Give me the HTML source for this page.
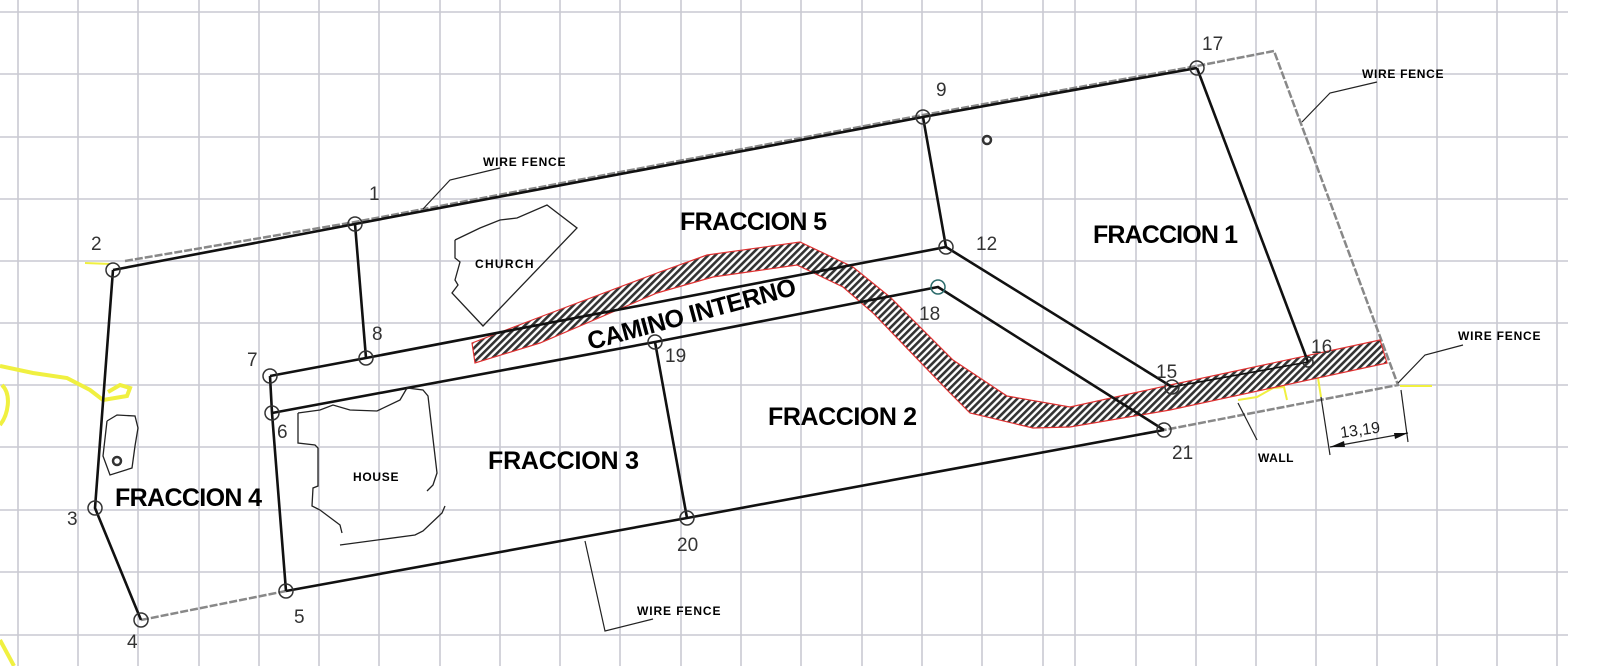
<!DOCTYPE html>
<html><head><meta charset="utf-8"><style>
html,body{margin:0;padding:0;background:#fff}
svg{display:block}
text{font-family:"Liberation Sans",sans-serif}
.n{font-size:19px;fill:#333}
.f{font-size:25px;font-weight:bold;fill:#000}
.s{font-size:12px;font-weight:bold;fill:#000;letter-spacing:-0.5px}
</style></head><body>
<svg width="1611" height="666" viewBox="0 0 1611 666" xmlns="http://www.w3.org/2000/svg">
<defs>
<pattern id="h" patternUnits="userSpaceOnUse" width="5" height="5" patternTransform="rotate(45)">
<rect width="5" height="5" fill="#fff"/><rect width="2.6" height="5" fill="#333"/>
</pattern>
</defs>
<g stroke="#c9c9d2" stroke-width="1.6">
<line x1="18" y1="0" x2="18" y2="666"/><line x1="78" y1="0" x2="78" y2="666"/><line x1="138" y1="0" x2="138" y2="666"/><line x1="199" y1="0" x2="199" y2="666"/><line x1="259" y1="0" x2="259" y2="666"/><line x1="319" y1="0" x2="319" y2="666"/><line x1="379" y1="0" x2="379" y2="666"/><line x1="440" y1="0" x2="440" y2="666"/><line x1="500" y1="0" x2="500" y2="666"/><line x1="560" y1="0" x2="560" y2="666"/><line x1="620" y1="0" x2="620" y2="666"/><line x1="681" y1="0" x2="681" y2="666"/><line x1="741" y1="0" x2="741" y2="666"/><line x1="801" y1="0" x2="801" y2="666"/><line x1="862" y1="0" x2="862" y2="666"/><line x1="922" y1="0" x2="922" y2="666"/><line x1="982" y1="0" x2="982" y2="666"/><line x1="1043" y1="0" x2="1043" y2="666"/><line x1="1075" y1="0" x2="1075" y2="666"/><line x1="1136" y1="0" x2="1136" y2="666"/><line x1="1196" y1="0" x2="1196" y2="666"/><line x1="1256" y1="0" x2="1256" y2="666"/><line x1="1316" y1="0" x2="1316" y2="666"/><line x1="1377" y1="0" x2="1377" y2="666"/><line x1="1437" y1="0" x2="1437" y2="666"/><line x1="1497" y1="0" x2="1497" y2="666"/><line x1="1557" y1="0" x2="1557" y2="666"/>
<line x1="0" y1="12" x2="1568" y2="12"/><line x1="0" y1="74" x2="1568" y2="74"/><line x1="0" y1="137" x2="1568" y2="137"/><line x1="0" y1="199" x2="1568" y2="199"/><line x1="0" y1="261" x2="1568" y2="261"/><line x1="0" y1="323" x2="1568" y2="323"/><line x1="0" y1="385" x2="1568" y2="385"/><line x1="0" y1="447" x2="1568" y2="447"/><line x1="0" y1="510" x2="1568" y2="510"/><line x1="0" y1="572" x2="1568" y2="572"/><line x1="0" y1="635" x2="1568" y2="635"/>
</g>
<!-- yellow -->
<g fill="none" stroke="#f0f040" stroke-width="4">
<polyline points="0,366 33,373 67,378 90,390 103,400 127,396 130,388 120,385 108,392"/>
<path d="M2,385 C12,395 8,415 0,425"/>
<line x1="0" y1="640" x2="14" y2="666"/>
<line x1="85" y1="263" x2="110" y2="264" stroke-width="2"/>
<line x1="1400" y1="386" x2="1432" y2="386" stroke-width="2"/>
<polyline points="1238,400 1257,397 1273,388 1284,387 1287,400" stroke-width="2"/>
<line x1="1318" y1="378" x2="1321" y2="397" stroke-width="2"/>
</g>
<!-- gray fence -->
<g fill="none" stroke="#888" stroke-width="2.5" stroke-dasharray="8,2">
<polyline points="125,261 355,222 923,115 1197,66 1274,51 1398,385 1164,430"/>
<line x1="141" y1="620" x2="286" y2="591"/>
</g>
<!-- road -->
<path d="M472,343 L540,317 L657,273 L707,255 L800,242 L853,267 L890,297 L953,360 L1007,396 L1070,407 L1170,385 L1380,340 L1387,363 L1170,410 L1070,427 L1033,428 L970,413 L950,393 L873,313 L843,287 L797,265 L713,277 L657,293 L540,343 L475,363 Z" fill="url(#h)" stroke="#e03030" stroke-width="1.2"/>
<!-- black lines -->
<g fill="none" stroke="#111" stroke-width="2.6">
<polyline points="113,270 355,224 923,117 1197,68"/>
<polyline points="113,270 95,508 141,620"/>
<line x1="355" y1="224" x2="366" y2="358"/>
<line x1="923" y1="117" x2="946" y2="247"/>
<line x1="1197" y1="68" x2="1308" y2="362"/>
<polyline points="270,376 366,358 946,247 1172,387"/>
<polyline points="270,376 272,413 286,591"/>
<polyline points="272,413 655,342 938,287 1164,430"/>
<line x1="655" y1="342" x2="687" y2="518"/>
<polyline points="286,591 687,518 1164,430"/>
<line x1="1172" y1="387" x2="1308" y2="362" stroke-width="1.6"/>
</g>
<!-- circles -->
<g fill="none" stroke="#333" stroke-width="1.5">
<circle cx="113" cy="270" r="7"/><circle cx="355" cy="224" r="7"/><circle cx="923" cy="117" r="7"/><circle cx="1197" cy="68" r="7"/>
<circle cx="95" cy="508" r="7"/><circle cx="141" cy="620" r="7"/><circle cx="286" cy="591" r="7"/><circle cx="272" cy="413" r="7"/>
<circle cx="270" cy="376" r="7"/><circle cx="366" cy="358" r="7"/><circle cx="946" cy="247" r="7"/><circle cx="938" cy="287" r="7" stroke="#2a6a6a"/>
<circle cx="655" cy="342" r="7"/><circle cx="687" cy="518" r="7"/><circle cx="1164" cy="430" r="7"/><circle cx="1172" cy="387" r="7"/><circle cx="1308" cy="362" r="5"/>
<circle cx="117" cy="461" r="4" stroke-width="2.5"/><circle cx="987" cy="140" r="4" stroke-width="2.5"/>
</g>
<!-- shapes -->
<g fill="none" stroke="#222" stroke-width="1.3">
<polyline points="455,240 480,228 500,220 517,218 547,205 577,228 483,326 452,293 458,285 455,280 460,262 455,258 455,240"/>
<polyline points="298,413 320,410 333,405 350,410 377,411 400,400 407,388 423,390 428,396 437,473 433,485 427,491"/>
<polyline points="445,506 442,513 423,531 415,535 340,545"/>
<polyline points="342,533 340,525 320,510 312,506 313,488 318,486 318,448 315,445 298,443 298,413"/>
<polyline points="107,421 117,415 135,416 138,428 135,446 132,468 110,475 103,456 107,421"/>
</g>
<!-- leaders -->
<g fill="none" stroke="#222" stroke-width="1.2">
<polyline points="500,168 450,180 423,209"/>
<polyline points="1377,82 1330,93 1302,122"/>
<polyline points="1463,345 1425,355 1398,383"/>
<polyline points="653,619 605,631 585,541"/>
<polyline points="1257,440 1238,403"/>
<line x1="1321" y1="397" x2="1330" y2="455"/>
<line x1="1401" y1="390" x2="1408" y2="442"/>
<line x1="1330" y1="447" x2="1408" y2="433"/>
</g>
<polygon points="1330,447 1344,441 1345,447" fill="#111"/>
<polygon points="1408,433 1394,433 1395,439" fill="#111"/>
<!-- labels -->
<g class="n">
<text x="91" y="250">2</text><text x="369" y="200">1</text><text x="1202" y="50">17</text><text x="936" y="96">9</text>
<text x="976" y="250">12</text><text x="919" y="320">18</text><text x="665" y="362">19</text><text x="372" y="340">8</text>
<text x="247" y="366">7</text><text x="277" y="438">6</text><text x="67" y="525">3</text><text x="127" y="648">4</text>
<text x="294" y="623">5</text><text x="677" y="551">20</text><text x="1156" y="378">15</text><text x="1311" y="353">16</text><text x="1172" y="459">21</text>
</g>
<g class="f">
<text x="680" y="230" textLength="147">FRACCION 5</text>
<text x="1093" y="243" textLength="145">FRACCION 1</text>
<text x="768" y="425" textLength="149">FRACCION 2</text>
<text x="488" y="469" textLength="151">FRACCION 3</text>
<text x="115" y="506" textLength="147">FRACCION 4</text>
<text x="0" y="0" transform="translate(590,350) rotate(-15)" textLength="215">CAMINO INTERNO</text>
</g>
<g class="s">
<text x="353" y="481" textLength="45">HOUSE</text>
<text x="475" y="268" textLength="58">CHURCH</text>
<text x="483" y="166" textLength="82">WIRE FENCE</text>
<text x="1362" y="78" textLength="81">WIRE FENCE</text>
<text x="1458" y="340" textLength="82">WIRE FENCE</text>
<text x="637" y="615" textLength="83">WIRE FENCE</text>
<text x="1258" y="462" textLength="35">WALL</text>
</g>
<text x="0" y="0" transform="translate(1341,438) rotate(-8)" style="font-size:16px;fill:#222">13,19</text>
</svg>
</body></html>
